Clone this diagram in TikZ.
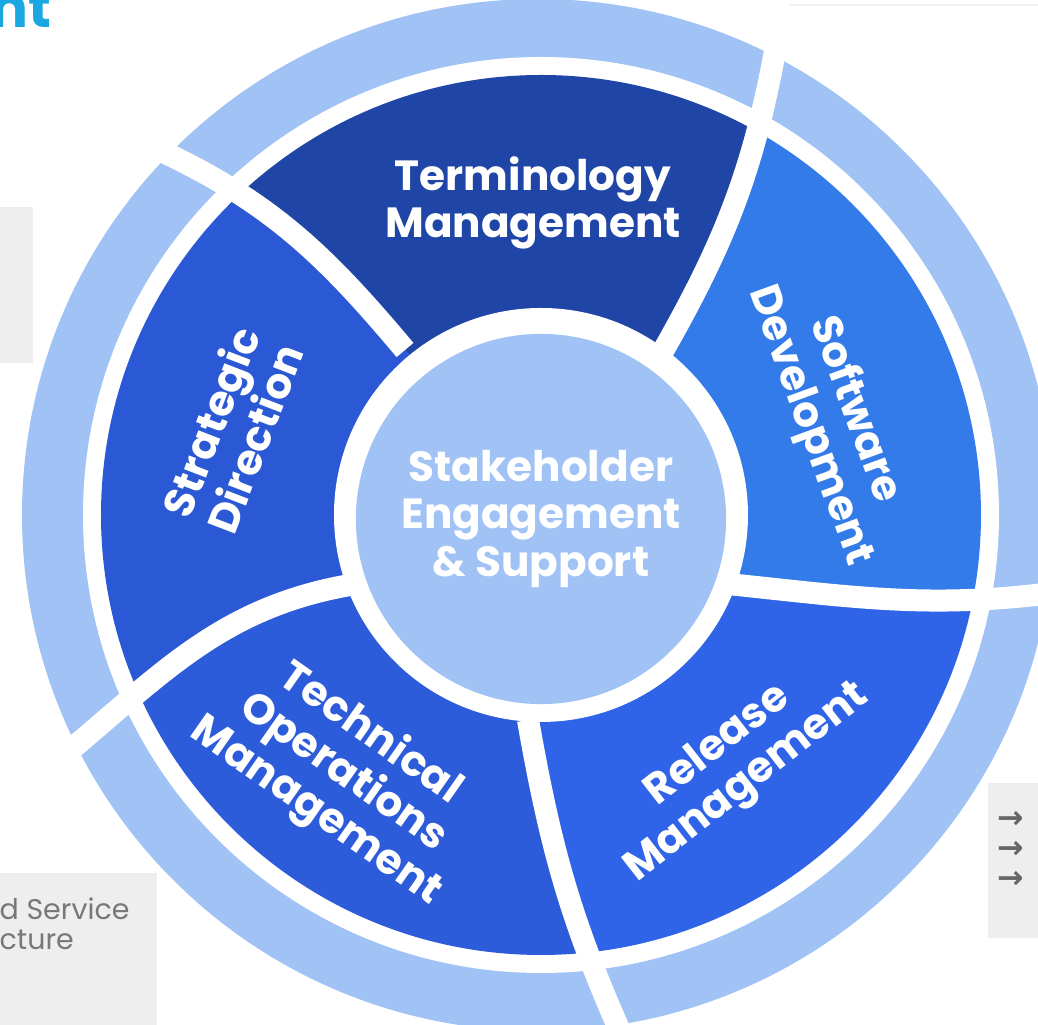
\documentclass[tikz,border=0pt]{standalone}
\usepackage{fontspec}
\setmainfont{Poppins}
\newfontfamily\arrowfont{DejaVu Sans}
\definecolor{termblue}{HTML}{1F46A6}
\definecolor{stratblue}{HTML}{2B59D6}
\definecolor{softblue}{HTML}{347BEA}
\definecolor{relblue}{HTML}{2F64E8}
\definecolor{techblue}{HTML}{2D5CDA}
\definecolor{ringblue}{HTML}{A0C2F5}
\definecolor{boxgray}{HTML}{EEEEEE}
\definecolor{textgray}{HTML}{787878}
\definecolor{titlecyan}{HTML}{1BA7E1}
\begin{document}
\begin{tikzpicture}[x=0.01cm, y=0.01cm,
  seglabel/.style={text=white, font=\bfseries\fontsize{12}{13.4}\selectfont, align=center, inner sep=0pt},
  gapline/.style={white, line width=2.2mm},
  sidetext/.style={anchor=base west, text=textgray, font=\fontsize{8.1}{9}\selectfont, inner sep=0pt},
  arrowtext/.style={text=black!60, font=\arrowfont\bfseries\fontsize{9}{10}\selectfont, inner sep=0pt}]
  \useasboundingbox (-541,-510) rectangle (497,515);
  \fill[boxgray] (-541,152) rectangle (-508,308);
  \fill[boxgray] (-541,-510) rectangle (-384,-358);
  \fill[boxgray] (447,-423) rectangle (497,-268);
  \draw[black!6] (249,510) -- (497,510);
  \node[anchor=base east, text=titlecyan, font=\bfseries\fontsize{16}{18}\selectfont, inner sep=0pt] (title) at (-489,487) {nt};
  \node[sidetext] (svc1) at (-542,-405) {d Service};
  \node[sidetext] (svc2) at (-542,-435) {cture};
  \foreach \y [count=\i] in {-305,-335,-365}
    \node[arrowtext] (arr\i) at (470,\y) {→};

  \coordinate (ts1) at (-136,165);  \coordinate (ts2) at (-384,366);
  \coordinate (tw1) at (114,150);   \coordinate (tw2) at (236,475);
  \coordinate (sr1) at (187,-69);   \coordinate (sr2) at (526,-76);
  \coordinate (rt1) at (-13,-205);  \coordinate (rt2) at (82,-523);
  \coordinate (td1) at (-191,-70);  \coordinate (td2) at (-473,-237);

  \fill[ringblue] (-3,0) circle (516);
  \fill[white] (0,0) circle (458);
  \begin{scope}
    \clip (0,0) circle (440);
    \fill[termblue] (0,0) -- (tw1) to[out=60,in=260] (tw2) -- (63:800) -- (100:800) -- (137:800) -- (ts2) to[out=-25,in=130] (ts1) -- cycle;
    \fill[stratblue] (0,0) -- (ts1) to[out=130,in=-25] (ts2) -- (136:800) -- (170:800) -- (207:800) -- (td2) to[out=40,in=190] (td1) -- cycle;
    \fill[techblue] (0,0) -- (td1) to[out=190,in=40] (td2) -- (206:800) -- (243:800) -- (280:800) -- (rt2) to[out=114,in=-80] (rt1) -- cycle;
    \fill[relblue] (0,0) -- (rt1) to[out=-80,in=114] (rt2) -- (-82:800) -- (-45:800) -- (-8:800) -- (sr2) to[out=188,in=-6] (sr1) -- cycle;
    \fill[softblue] (0,0) -- (sr1) to[out=-6,in=188] (sr2) -- (-9:800) -- (28:800) -- (64:800) -- (tw2) to[out=260,in=60] (tw1) -- cycle;
  \end{scope}
  \draw[gapline] (ts1) to[out=130,in=-25] (ts2);
  \draw[gapline] (tw1) to[out=60,in=260] (tw2);
  \draw[gapline] (sr1) to[out=-6,in=188] (sr2);
  \draw[gapline] (rt1) to[out=-80,in=114] (rt2);
  \draw[gapline] (td1) to[out=190,in=40] (td2);
  \fill[white] (0,0) circle (207);

  \node[seglabel, circle, fill=ringblue, minimum size=3.7cm] (hub) at (0,-4) {Stakeholder\\Engagement\\\& Support};
  \node[seglabel] (term) at (-8,312) {Terminology\\Management};
  \node[seglabel, rotate=69] (strat) at (-309,85) {Strategic\\Direction};
  \node[seglabel, rotate=-70] (soft) at (291,97) {Software\\Development};
  \node[seglabel, rotate=38] (rel) at (192,-250) {Release\\Management};
  \node[seglabel, rotate=-35] (tech) at (-198,-258) {Technical\\Operations\\Management};
\end{tikzpicture}
\end{document}
